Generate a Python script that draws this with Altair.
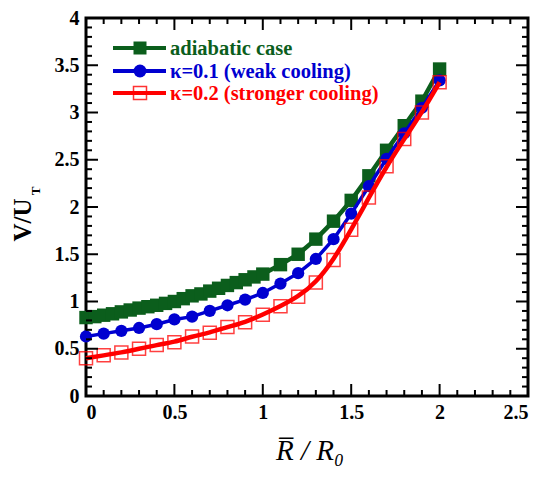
import altair as alt
import pandas as pd

# ---- data ----
x_green = [0.0, 0.05, 0.1, 0.15, 0.2, 0.25, 0.3, 0.35, 0.4, 0.45, 0.5, 0.55, 0.6, 0.65,
           0.7, 0.75, 0.8, 0.85, 0.9, 0.95, 1.0, 1.1, 1.2, 1.3, 1.4, 1.5, 1.6, 1.7, 1.8, 1.9, 2.0]
v_green = [0.83, 0.84, 0.855, 0.87, 0.89, 0.91, 0.93, 0.945, 0.96, 0.98, 1.00, 1.03, 1.06, 1.08,
           1.11, 1.14, 1.17, 1.20, 1.23, 1.26, 1.29, 1.39, 1.50, 1.66, 1.85, 2.07, 2.33, 2.60, 2.86, 3.12, 3.46]

x_kappa = [0.0, 0.1, 0.2, 0.3, 0.4, 0.5, 0.6, 0.7, 0.8, 0.9, 1.0,
           1.1, 1.2, 1.3, 1.4, 1.5, 1.6, 1.7, 1.8, 1.9, 2.0]
v_blue = [0.63, 0.66, 0.69, 0.72, 0.76, 0.81, 0.84, 0.90, 0.96, 1.02, 1.09,
          1.19, 1.30, 1.45, 1.66, 1.93, 2.22, 2.51, 2.78, 3.05, 3.34]
v_red = [0.40, 0.43, 0.46, 0.50, 0.54, 0.57, 0.63, 0.67, 0.73, 0.78, 0.86,
         0.95, 1.05, 1.20, 1.44, 1.76, 2.10, 2.43, 2.72, 3.00, 3.32]

series_names = ["adiabatic case", "\u03ba=0.1 (weak cooling)", "\u03ba=0.2 (stronger cooling)"]
series_colors = ["#0b5e1c", "#0000d0", "#ff0000"]

x_major = [0, 0.5, 1, 1.5, 2, 2.5]
y_major = [0, 0.5, 1, 1.5, 2, 2.5, 3, 3.5, 4]
x_minor = [round(i * 0.1, 1) for i in range(26) if i % 5]
y_minor = [round(i * 0.1, 1) for i in range(41) if i % 5]

W, H = 442, 378
FONT = "Liberation Serif"

xscale = alt.Scale(domain=[0, 2.5], nice=False, zero=False)
yscale = alt.Scale(domain=[0, 4], nice=False, zero=False)

df_g = pd.DataFrame({"x": x_green, "v": v_green})
df_b = pd.DataFrame({"x": x_kappa, "v": v_blue})
df_r = pd.DataFrame({"x": x_kappa, "v": v_red})

xaxis = alt.Axis(values=x_major, labelExpr="'' + datum.value", title=None, domain=False,
                 ticks=False, grid=False, labelFont=FONT, labelFontWeight="bold",
                 labelFontSize=20, labelColor="black", labelPadding=6)
yaxis = alt.Axis(values=y_major, labelExpr="'' + datum.value", title=None, domain=False,
                 ticks=False, grid=False, labelFont=FONT, labelFontWeight="bold",
                 labelFontSize=20, labelColor="black", labelPadding=7)

X = alt.X("x:Q", scale=xscale, axis=xaxis)
Y = alt.Y("v:Q", scale=yscale, axis=yaxis)

green_line = alt.Chart(df_g).mark_line(color=series_colors[0], strokeWidth=4.5).encode(x=X, y=Y)
green_pts = alt.Chart(df_g).mark_point(shape="square", filled=True, size=180, opacity=1,
                                       color=series_colors[0]).encode(x=X, y=Y)
blue_line = alt.Chart(df_b).mark_line(color=series_colors[1], strokeWidth=3.5).encode(x=X, y=Y)
blue_pts = alt.Chart(df_b).mark_point(shape="circle", filled=True, size=150, opacity=1,
                                      color=series_colors[1]).encode(x=X, y=Y)
red_line = alt.Chart(df_r).mark_line(color=series_colors[2], strokeWidth=4.5,
                                     interpolate="basis").encode(x=X, y=Y)
red_pts = alt.Chart(df_r).mark_point(shape="square", filled=False, size=169, opacity=0.75,
                                     strokeWidth=1.5, color=series_colors[2]).encode(x=X, y=Y)

# ---- inward ticks on all four sides ----
def xticks(vals, length):
    d = pd.DataFrame({"x": vals})
    bottom = alt.Chart(d).mark_rule(color="black", strokeWidth=2).encode(
        x=alt.X("x:Q", scale=xscale), y=alt.value(H), y2=alt.value(H - length))
    top = alt.Chart(d).mark_rule(color="black", strokeWidth=2).encode(
        x=alt.X("x:Q", scale=xscale), y=alt.value(0), y2=alt.value(length))
    return [bottom, top]

def yticks(vals, length):
    d = pd.DataFrame({"v": vals})
    left = alt.Chart(d).mark_rule(color="black", strokeWidth=2).encode(
        y=alt.Y("v:Q", scale=yscale), x=alt.value(0), x2=alt.value(length))
    right = alt.Chart(d).mark_rule(color="black", strokeWidth=2).encode(
        y=alt.Y("v:Q", scale=yscale), x=alt.value(W), x2=alt.value(W - length))
    return [left, right]

ticks = xticks(x_major, 12) + xticks(x_minor, 6) + yticks(y_major, 12) + yticks(y_minor, 6)

# ---- legend (manual) ----
one = alt.Data(values=[{"a": 1}])
legend_layers = []
row_y = [30, 53, 75]
shapes = [("square", True), ("circle", True), ("square", False)]
for name, col, yy, (shp, fill) in zip(series_names, series_colors, row_y, shapes):
    legend_layers.append(alt.Chart(one).mark_rule(color=col, strokeWidth=4).encode(
        x=alt.value(27), x2=alt.value(80), y=alt.value(yy)))
    legend_layers.append(alt.Chart(one).mark_point(shape=shp, filled=fill, opacity=1 if fill else 0.8,
                                                   size=169, strokeWidth=1.5, color=col).encode(
        x=alt.value(54), y=alt.value(yy)))
    legend_layers.append(alt.Chart(one).mark_text(text=name, font=FONT, fontWeight="bold",
                                                  fontSize=20.5, color=col, align="left",
                                                  baseline="middle").encode(
        x=alt.value(84), y=alt.value(yy + 1)))

# ---- axis titles ----
ytitle = alt.Chart(one).mark_text(text="V/U", font=FONT, fontWeight="bold", fontSize=25,
                                  angle=270, color="black", baseline="middle",
                                  align="center").encode(x=alt.value(-63), y=alt.value(202))
ytitle_sub = alt.Chart(one).mark_text(text="T", font=FONT, fontWeight="bold", fontSize=13,
                                      angle=270, color="black", baseline="middle",
                                      align="center").encode(x=alt.value(-50), y=alt.value(173))
xtitle = alt.Chart(one).mark_text(text="R\u0305 / R\u2080", font=FONT, fontStyle="italic",
                                  fontSize=29, color="black", baseline="middle",
                                  align="center").encode(x=alt.value(224), y=alt.value(433))

chart = alt.layer(
    green_line, green_pts, blue_line, blue_pts, red_line, red_pts,
    *ticks, *legend_layers, ytitle, ytitle_sub, xtitle
).properties(
    width=W, height=H,
    autosize=alt.AutoSizeParams(type="none"),
    padding={"left": 78, "top": 10, "right": 15, "bottom": 74}
).configure_view(stroke="black", strokeWidth=3)

chart.save("out.html", embed_options={"renderer": "svg", "actions": False})
